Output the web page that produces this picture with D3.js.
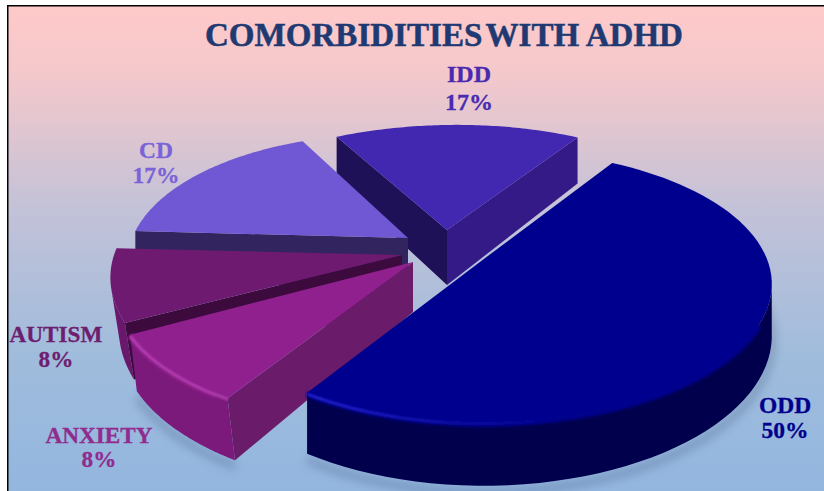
<!DOCTYPE html>
<html>
<head>
<meta charset="utf-8">
<script src="https://cdn.jsdelivr.net/npm/d3@7/dist/d3.min.js"></script>
<style>
  html, body { margin: 0; padding: 0; background: #fff; }
  svg { display: block; }
  text { font-family: "Liberation Serif", serif; font-weight: bold; text-anchor: middle; }
</style>
</head>
<body>
<script>
// Clockwise from the first slice of the pie
const categories = ["ODD", "ANXIETY", "AUTISM", "CD", "IDD"];
const percents = [50, 8, 8, 17, 17];
const titleWords = ["COMORBIDITIES ", "WITH ADHD"];

const topColors = ["#00008e", "#91208f", "#6e1a70", "#7058d4", "#4228b0"];
const outerWallColors = ["#00004c", "#7c1a7c", "#6a186c", "#32245e", "#1f1158"];
const startWallColors = ["#000060", "#6a1b6a", "#3d0a3e", "#32245e", "#1f1158"];
const endWallColors = ["#000060", "#6a1b6a", "#3d0a3e", "#32245e", "#341a86"];
const labelColors = ["#00008c", "#912c8f", "#6e1e70", "#7a63d8", "#4a2bb0"];

// Each exploded slice: projected apex, radii, wall depth and small per-slice shear
const sliceFrames = [
  { ax: 488.5, ay: 255.5, rx: 277, ry: 129, depth: 49, shearX: -5, shearY: 0, lean: 0 },
  { ax: 413, ay: 262, rx: 290, ry: 128, depth: 50, shearX: 0, shearY: 0, lean: 0.12 },
  { ax: 402, ay: 255, rx: 284, ry: 135, depth: 50, shearX: 0, shearY: 10, lean: 0.16 },
  { ax: 408, ay: 238, rx: 271, ry: 127, depth: 50, shearX: -10, shearY: 10, lean: 0 },
  { ax: 447, ay: 230, rx: 283, ry: 129, depth: 55, shearX: -10, shearY: 0, lean: 0 }
];
const labelAnchors = [[785, 413, 438, 23.5], [99, 443, 467, 23.2], [56, 342, 367, 23.2], [156, 158, 183, 23.5], [469, 82, 110, 24]];

const width = 824, height = 491;
const perspective = 0.227;
const firstAngle = 31 * Math.PI / 180;

const svg = d3.select("body").append("svg").attr("width", width).attr("height", height);
const defs = svg.append("defs");

const backdrop = defs.append("linearGradient").attr("id", "backdrop")
  .attr("x1", 0).attr("y1", 0).attr("x2", 0).attr("y2", 1);
[[0, "#ffc9c9"], [0.14, "#f4c8cb"], [0.42, "#c3c2d8"], [0.72, "#a0bcdc"], [1, "#93b6df"]]
  .forEach(([o, c]) => backdrop.append("stop").attr("offset", o).attr("stop-color", c));

const blur = (id, s) => defs.append("filter").attr("id", id)
  .attr("x", "-10%").attr("y", "-10%").attr("width", "120%").attr("height", "120%")
  .append("feGaussianBlur").attr("stdDeviation", s);
blur("soft", 1.6);
blur("rim", 1.1);
blur("ground", 5);

svg.append("rect").attr("x", 7).attr("y", 5).attr("width", width - 7).attr("height", height - 5)
  .attr("fill", "url(#backdrop)");
svg.append("path").attr("d", `M7.75 ${height}V5.75H${width}`)
  .attr("fill", "none").attr("stroke", "#000").attr("stroke-width", 1.5);

const pie = d3.pie().sort(null).value(d => d)
  .startAngle(firstAngle).endAngle(firstAngle + 2 * Math.PI);
const arcs = pie(percents);

// Plane position (unit circle, y toward the viewer) to page position
function project(frame, angle, r, z) {
  const X = Math.sin(angle) * r, Y = -Math.cos(angle) * r;
  const f = 1 / (1 - perspective * Y);
  return [
    frame.ax + frame.rx * X * f + frame.shearX * Y + z * f * frame.lean * r,
    frame.ay + frame.ry * Y * f + frame.shearY * X + z * f
  ];
}
const polygon = d3.line().curve(d3.curveLinear);
const signedArea = pts => d3.polygonArea(pts);
const arcAngles = (a, b) => d3.range(0, 73).map(i => a + (b - a) * i / 72);

// Back-to-front: IDD, CD, AUTISM, ANXIETY, ODD
const drawOrder = [4, 3, 2, 1, 0];

// Soft contact shadow under the slices nearest the viewer
const ground = svg.append("g").attr("filter", "url(#ground)").attr("opacity", 0.3);
[0, 1].forEach(i => {
  const frame = sliceFrames[i], a = arcs[i];
  const pts = arcAngles(a.startAngle, a.endAngle).map(t => project(frame, t, 1, frame.depth + 5));
  ground.append("path").attr("d", polygon(pts)).attr("fill", "none")
    .attr("stroke", "#2a3f6a").attr("stroke-width", 7);
});

drawOrder.forEach(i => {
  const frame = sliceFrames[i], a = arcs[i];
  const g = svg.append("g").attr("class", "slice");
  const angles = arcAngles(a.startAngle, a.endAngle);
  const P = (t, r, z) => project(frame, t, r, z);
  const d = frame.depth;

  // The run of the outer arc that faces the viewer
  const front = angles.filter(t => {
    const q = [P(t, 1, 0), P(t + 0.01, 1, 0), P(t + 0.01, 1, d), P(t, 1, d)];
    return signedArea(q) > 0;
  });

  // Outer curved wall
  if (front.length > 1) {
    const wall = [...front.map(t => P(t, 1, 0)), ...front.slice().reverse().map(t => P(t, 1, d))];
    g.append("path").attr("d", polygon(wall) + "Z").attr("fill", outerWallColors[i]);
  }

  // Radial walls on either side of the slice
  const wallStart = [P(a.startAngle, 0, 0), P(a.startAngle, 1, 0), P(a.startAngle, 1, d), P(a.startAngle, 0, d)];
  const wallEnd = [P(a.endAngle, 1, 0), P(a.endAngle, 0, 0), P(a.endAngle, 0, d), P(a.endAngle, 1, d)];
  if (signedArea(wallStart) > 0) {
    g.append("path").attr("d", polygon(wallStart) + "Z").attr("fill", startWallColors[i]);
  }
  if (signedArea(wallEnd) > 0) {
    g.append("path").attr("d", polygon(wallEnd) + "Z").attr("fill", endWallColors[i]);
  }

  // Rounded rim: the top colour bleeds softly over the wall, away from the silhouette ends
  if (i <= 1 && front.length > 12) {
    g.append("path").attr("d", polygon(front.slice(6).map(t => P(t, 1, 1))))
      .attr("fill", "none").attr("stroke", topColors[i]).attr("stroke-width", 6)
      .attr("filter", "url(#soft)");
  }

  // Top face
  const face = [P(a.startAngle, 0, 0), ...angles.map(t => P(t, 1, 0))];
  g.append("path").attr("d", polygon(face) + "Z").attr("fill", topColors[i]);

  // Lit edge along the near side of the arc
  if (i <= 1 && front.length > 1) {
    const line = front.map(t => P(t, 1, 1));
    const rimId = `rim-${i}`;
    const x0 = d3.min(line, p => p[0]), x1 = d3.max(line, p => p[0]);
    const lit = defs.append("linearGradient").attr("id", rimId)
      .attr("gradientUnits", "userSpaceOnUse").attr("x1", x0).attr("x2", x1).attr("y1", 0).attr("y2", 0);
    const glow = i === 0 ? "#2a2ae0" : "#c045bc";
    lit.append("stop").attr("offset", 0).attr("stop-color", glow).attr("stop-opacity", 1);
    lit.append("stop").attr("offset", i === 0 ? 0.55 : 1).attr("stop-color", glow)
      .attr("stop-opacity", i === 0 ? 0 : 0.9);
    g.append("path").attr("d", polygon(line)).attr("fill", "none")
      .attr("stroke", `url(#${rimId})`).attr("stroke-width", 2.2).attr("filter", "url(#rim)");
  }
});

// Slice labels: name above percentage
categories.forEach((name, i) => {
  const [x, y1, y2, size] = labelAnchors[i];
  const t = svg.append("g").attr("font-size", size).attr("fill", labelColors[i])
    .attr("stroke", labelColors[i]).attr("stroke-width", 0.3);
  t.append("text").attr("x", x).attr("y", y1).text(name);
  t.append("text").attr("x", x).attr("y", y2).text(`${percents[i]}%`);
});

const title = svg.append("text").attr("x", 444).attr("y", 46).attr("font-size", 33)
  .attr("fill", "#1f3a72").attr("stroke", "#1f3a72").attr("stroke-width", 0.5)
  .attr("textLength", 478).attr("lengthAdjust", "spacingAndGlyphs");
title.append("tspan").attr("word-spacing", -5).attr("xml:space", "preserve").text(titleWords[0]);
title.append("tspan").text(titleWords[1]);
</script>
</body>
</html>
